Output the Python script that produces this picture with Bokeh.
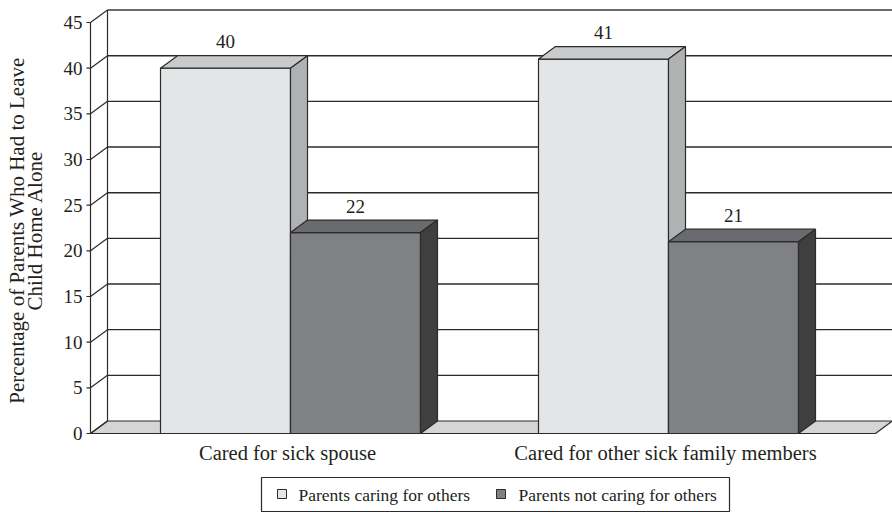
from math import pi

from bokeh.core.properties import value
from bokeh.embed import file_html
from bokeh.models import Range1d
from bokeh.plotting import figure
from bokeh.resources import INLINE

# ---- data -------------------------------------------------------------
categories = ["Cared for sick spouse", "Cared for other sick family members"]
series_names = ["Parents caring for others", "Parents not caring for others"]
caring = [40, 41]
not_caring = [22, 21]
y_ticks = [0, 5, 10, 15, 20, 25, 30, 35, 40, 45]
y_title = ["Percentage of Parents Who Had to Leave", "Child Home Alone"]

# ---- layout / style ---------------------------------------------------
W, H = 892, 513
PX_X = 378.0        # pixels per category step
PX_Y = 9.133        # pixels per percentage point
ORIGIN_PX = (290, 433)   # where (category 1, value 0) sits on the canvas

x_lo = 1 - ORIGIN_PX[0] / PX_X
x_hi = x_lo + W / PX_X
y_hi = ORIGIN_PX[1] / PX_Y
y_lo = y_hi - H / PX_Y


def px_x(px):
    return x_lo + px / PX_X


def px_y(py):
    return y_hi - py / PX_Y


DX = 17 / PX_X       # depth offset (x)
DY = 12.5 / PX_Y     # depth offset (y)
BAR_W = 130 / PX_X
FLOOR_L = px_x(90)
FLOOR_R = px_x(875)
Y_MAX = 45

FONT = value("Liberation Serif")
INK = "#231f20"
LINE = "#2b2b2b"
SERIES_COLORS = [
    # front, top, side
    ("#e4e5e7", "#c9cacc", "#b0b1b3"),
    ("#808185", "#6a6b6e", "#3f3f40"),
]

p = figure(width=W, height=H, output_backend="svg", toolbar_location=None,
           x_range=Range1d(x_lo, x_hi), y_range=Range1d(y_lo, y_hi),
           x_axis_type=None, y_axis_type=None, min_border=0,
           background_fill_color="white", border_fill_color="white")
p.outline_line_color = None
p.xgrid.visible = False
p.ygrid.visible = False

# ---- floor ------------------------------------------------------------
p.patch([FLOOR_L, FLOOR_R, FLOOR_R + DX, FLOOR_L + DX],
        [0, 0, DY, DY], fill_color="#d4d5d7", line_color=LINE, line_width=1.2)

# ---- back wall: gridlines, left edge, top --------------------------------
grid_vals = [t for t in y_ticks if 0 < t < Y_MAX]
p.segment(x0=[FLOOR_L + DX] * len(grid_vals), x1=[x_hi] * len(grid_vals),
          y0=[t + DY for t in grid_vals], y1=[t + DY for t in grid_vals],
          line_color=LINE, line_width=1.4)
p.segment(x0=[FLOOR_L + DX], x1=[x_hi], y0=[Y_MAX + DY], y1=[Y_MAX + DY],
          line_color="#6a6a6a", line_width=2)
p.segment(x0=[FLOOR_L + DX], x1=[FLOOR_L + DX], y0=[DY], y1=[Y_MAX + DY],
          line_color=LINE, line_width=1.2)

# ---- front axis, ticks, diagonals, labels --------------------------------
p.segment(x0=[FLOOR_L], x1=[FLOOR_L], y0=[0], y1=[Y_MAX],
          line_color=LINE, line_width=1.2)
p.segment(x0=[FLOOR_L - 4 / PX_X] * len(y_ticks), x1=[FLOOR_L] * len(y_ticks),
          y0=y_ticks, y1=y_ticks, line_color=LINE, line_width=1.2)
p.segment(x0=[FLOOR_L] * len(y_ticks), x1=[FLOOR_L + DX] * len(y_ticks),
          y0=y_ticks, y1=[t + DY for t in y_ticks], line_color=LINE, line_width=1.2)
p.text(x=[FLOOR_L - 8 / PX_X] * len(y_ticks), y=y_ticks,
       text=[str(t) for t in y_ticks], text_font=FONT, text_font_size="19px",
       text_color=INK, text_align="right", text_baseline="middle")

# ---- 3D bars --------------------------------------------------------------
for gi, (cat, vals) in enumerate(zip(categories, zip(caring, not_caring))):
    center = gi + 1
    for si, v in enumerate(vals):
        front, top, side = SERIES_COLORS[si]
        left = center - BAR_W + si * BAR_W
        right = left + BAR_W
        p.quad(left=[left], right=[right], bottom=[0], top=[v],
               fill_color=front, line_color=LINE, line_width=1.2)
        p.patch([left, right, right + DX, left + DX], [v, v, v + DY, v + DY],
                fill_color=top, line_color=LINE, line_width=1.2)
        p.patch([right, right + DX, right + DX, right], [0, DY, v + DY, v],
                fill_color=side, line_color=LINE, line_width=1.2)
        p.text(x=[(left + right) / 2], y=[v + DY + 14 / PX_Y], text=[str(v)],
               text_font=FONT, text_font_size="19px", text_color=INK,
               text_align="center", text_baseline="middle")
    p.text(x=[center - 3 / PX_X], y=[px_y(452)], text=[cat], text_font=FONT,
           text_font_size="20.5px", text_color=INK, text_align="center",
           text_baseline="middle")

# ---- y-axis title (two rotated lines) --------------------------------------
p.text(x=[px_x(16), px_x(34)], y=[px_y(230), px_y(230)], text=y_title,
       angle=pi / 2, text_font=FONT, text_font_size="21px", text_color=INK,
       text_align="center", text_baseline="middle")

# ---- legend -----------------------------------------------------------------
p.quad(left=[px_x(261)], right=[px_x(729)], top=[px_y(477)], bottom=[px_y(511)],
       fill_color="white", line_color=LINE, line_width=1.2)
swatch_x = [277, 496]
label_x = [298, 518]
for si, name in enumerate(series_names):
    p.quad(left=[px_x(swatch_x[si])], right=[px_x(swatch_x[si] + 9)],
           top=[px_y(489)], bottom=[px_y(498)],
           fill_color=SERIES_COLORS[si][0], line_color=LINE, line_width=1)
    p.text(x=[px_x(label_x[si])], y=[px_y(494)], text=[name], text_font=FONT,
           text_font_size="17.5px", text_color=INK, text_align="left",
           text_baseline="middle")

open("out.html", "w").write(file_html(p, INLINE))
